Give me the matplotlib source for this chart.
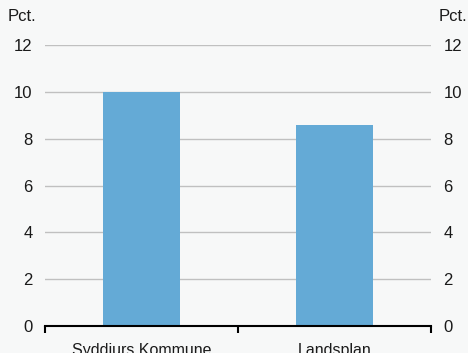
import matplotlib
matplotlib.use("Agg")
import matplotlib.pyplot as plt

categories = ["Syddjurs Kommune", "Landsplan"]
values = [10.0, 8.6]
yticks = [0, 2, 4, 6, 8, 10, 12]

plt.rcParams['font.family'] = ['Liberation Sans', 'DejaVu Sans']
bg = '#f7f8f8'
fig = plt.figure(figsize=(4.68, 3.53), dpi=100, facecolor=bg)
ax = fig.add_axes([45/468, 27/353, 386/468, 281/353], facecolor=bg)

x = list(range(len(categories)))
ax.bar(x, values, width=0.4, color='#64aad6', zorder=3)
ax.set_xlim(-0.5, len(categories) - 0.5)
ax.set_ylim(0, 12)
ax.set_yticks(yticks)
ax.yaxis.grid(True, color='#c0c0c0', linewidth=1, zorder=0)
for s in ['left', 'right', 'top']:
    ax.spines[s].set_visible(False)
ax.spines['bottom'].set_color('black')
ax.spines['bottom'].set_linewidth(1.5)
ax.spines['bottom'].set_zorder(4)

ax.set_xticks([-0.5, 0.5, 1.5])
ax.set_xticklabels([])
ax.tick_params(axis='x', length=5, width=1.5, direction='out', color='black')
ax.set_xticks(x, minor=True)
ax.set_xticklabels(categories, minor=True, fontsize=11.5, color='#1a1a1a')
ax.tick_params(axis='x', which='minor', length=0, pad=12)

ax.tick_params(axis='y', length=0, labelsize=12, pad=9, labelcolor='#1a1a1a')
ax.tick_params(axis='y', labelright=True, right=False)

fig.text(8/468, 1 - 21/353, 'Pct.', fontsize=12, color='#1a1a1a', ha='left', va='baseline')
fig.text(467/468, 1 - 21/353, 'Pct.', fontsize=12, color='#1a1a1a', ha='right', va='baseline')

fig.savefig('out.png', dpi=100, facecolor=bg)
